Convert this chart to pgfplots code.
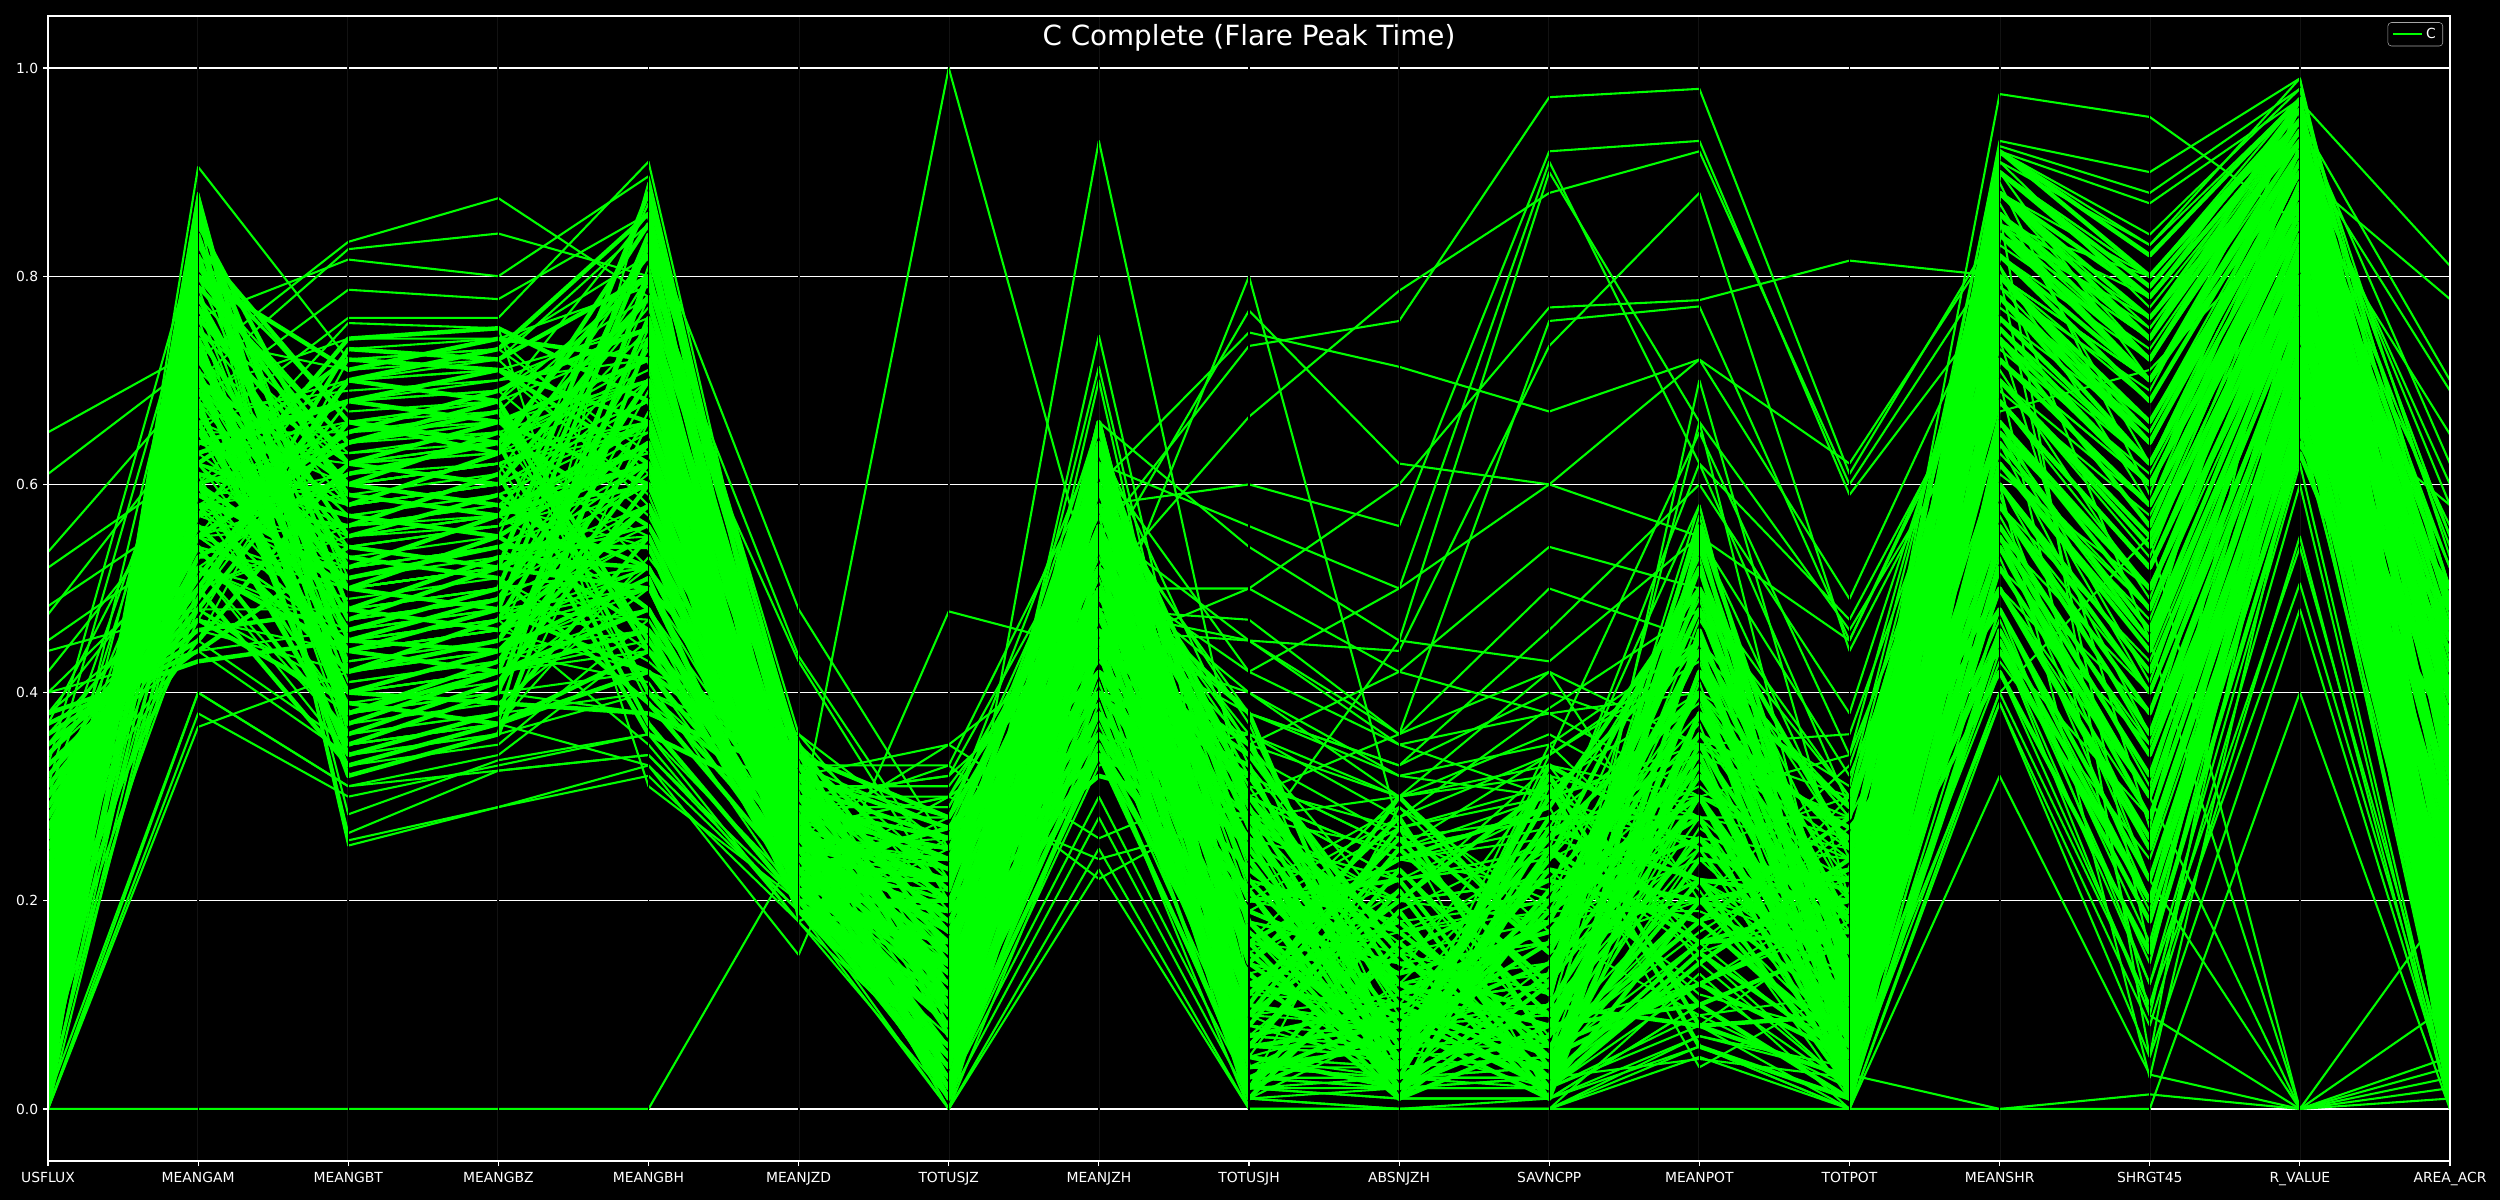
\documentclass[border=0pt]{standalone}
\usepackage{pgfplots}
\usepackage{pgfplotstable}
\pgfplotsset{compat=1.18}
\usepackage{fontspec}
\setmainfont{DejaVu Sans}
\definecolor{lg}{HTML}{00FF00}

\pgfplotstableread{
USFLUX MEANGAM MEANGBT MEANGBZ MEANGBH MEANJZD TOTUSJZ MEANJZH TOTUSJH ABSNJZH SAVNCPP MEANPOT TOTPOT MEANSHR SHRGT RVALUE AREAACR
0.05 0.82 0.45 0.49 0.70 0.22 0.04 0.55 0.05 0.02 0.20 0.30 0.10 0.85 0.70 0.90 0.05
0.12 0.70 0.60 0.58 0.52 0.26 0.10 0.48 0.12 0.18 0.05 0.22 0.02 0.70 0.55 0.82 0.15
0.20 0.60 0.35 0.40 0.80 0.30 0.18 0.40 0.25 0.06 0.30 0.45 0.18 0.60 0.40 0.75 0.30
0.30 0.50 0.70 0.68 0.45 0.24 0.22 0.62 0.30 0.10 0.02 0.15 0.05 0.90 0.78 0.95 0.40
0.08 0.78 0.52 0.57 0.62 0.20 0.06 0.35 0.08 0.25 0.12 0.50 0.25 0.50 0.25 0.68 0.10
0.15 0.66 0.40 0.39 0.38 0.32 0.14 0.58 0.16 0.01 0.25 0.10 0.01 0.78 0.62 0.88 0.22
0.25 0.55 0.65 0.69 0.75 0.28 0.25 0.45 0.35 0.12 0.08 0.35 0.13 0.45 0.18 0.65 0.48
0.35 0.46 0.48 0.46 0.58 0.21 0.08 0.66 0.10 0.30 0.15 0.40 0.07 0.88 0.74 0.97 0.08
0.03 0.85 0.58 0.63 0.85 0.34 0.28 0.52 0.38 0.04 0.33 0.25 0.21 0.65 0.50 0.80 0.35
0.10 0.74 0.38 0.42 0.48 0.23 0.12 0.38 0.06 0.08 0.01 0.55 0.03 0.55 0.32 0.72 0.18
0.18 0.62 0.72 0.71 0.66 0.27 0.02 0.60 0.02 0.15 0.22 0.18 0.28 0.82 0.68 0.92 0.02
0.28 0.52 0.44 0.48 0.42 0.31 0.20 0.32 0.28 0.03 0.10 0.08 0.09 0.72 0.58 0.85 0.42
0.06 0.80 0.62 0.60 0.78 0.19 0.16 0.50 0.20 0.22 0.04 0.42 0.15 0.42 0.15 0.63 0.28
0.14 0.68 0.34 0.38 0.55 0.25 0.05 0.64 0.04 0.06 0.28 0.28 0.02 0.92 0.80 0.96 0.06
0.22 0.58 0.56 0.61 0.36 0.29 0.26 0.42 0.32 0.11 0.18 0.48 0.11 0.62 0.45 0.78 0.45
0.32 0.48 0.66 0.64 0.82 0.33 0.10 0.56 0.14 0.28 0.06 0.12 0.19 0.80 0.66 0.90 0.12
0.04 0.84 0.42 0.45 0.64 0.22 0.22 0.46 0.26 0.02 0.13 0.33 0.04 0.52 0.30 0.70 0.38
0.11 0.72 0.50 0.55 0.46 0.20 0.03 0.34 0.03 0.09 0.02 0.20 0.23 0.68 0.52 0.84 0.04
0.19 0.64 0.68 0.66 0.72 0.26 0.15 0.62 0.18 0.05 0.24 0.52 0.06 0.86 0.72 0.94 0.25
0.27 0.54 0.36 0.41 0.60 0.30 0.24 0.54 0.30 0.14 0.09 0.26 0.14 0.58 0.36 0.74 0.50
0.37 0.44 0.54 0.52 0.50 0.35 0.07 0.44 0.09 0.20 0.31 0.06 0.01 0.75 0.60 0.87 0.10
0.07 0.79 0.64 0.68 0.40 0.24 0.13 0.36 0.13 0.01 0.07 0.38 0.26 0.48 0.22 0.66 0.20
0.16 0.69 0.46 0.50 0.84 0.21 0.19 0.58 0.22 0.07 0.16 0.44 0.08 0.88 0.76 0.93 0.32
0.24 0.57 0.74 0.75 0.68 0.28 0.01 0.48 0.01 0.16 0.03 0.16 0.17 0.66 0.48 0.83 0.01
0.33 0.47 0.39 0.37 0.44 0.23 0.27 0.40 0.33 0.04 0.21 0.30 0.03 0.80 0.64 0.91 0.46
0.09 0.76 0.60 0.65 0.56 0.32 0.09 0.66 0.11 0.26 0.11 0.54 0.12 0.56 0.34 0.71 0.14
0.13 0.71 0.32 0.36 0.74 0.19 0.11 0.52 0.15 0.03 0.27 0.22 0.20 0.74 0.60 0.86 0.17
0.21 0.61 0.57 0.55 0.64 0.27 0.17 0.38 0.23 0.12 0.05 0.12 0.05 0.90 0.79 0.96 0.27
0.29 0.51 0.70 0.73 0.86 0.30 0.23 0.60 0.27 0.08 0.14 0.36 0.27 0.44 0.20 0.64 0.36
0.02 0.86 0.48 0.53 0.52 0.25 0.02 0.44 0.02 0.19 0.01 0.46 0.10 0.60 0.42 0.77 0.03
0.17 0.65 0.53 0.51 0.39 0.22 0.14 0.34 0.17 0.05 0.19 0.28 0.02 0.84 0.70 0.92 0.21
0.26 0.56 0.42 0.47 0.70 0.34 0.21 0.64 0.24 0.02 0.08 0.10 0.16 0.70 0.54 0.84 0.40
0.36 0.45 0.62 0.66 0.60 0.26 0.12 0.50 0.16 0.24 0.29 0.50 0.07 0.54 0.28 0.70 0.16
0.05 0.83 0.66 0.63 0.78 0.20 0.06 0.56 0.07 0.10 0.04 0.24 0.22 0.76 0.62 0.88 0.07
0.12 0.73 0.37 0.42 0.46 0.29 0.16 0.42 0.19 0.13 0.17 0.34 0.04 0.64 0.46 0.80 0.23
0.23 0.59 0.51 0.54 0.54 0.24 0.19 0.36 0.21 0.01 0.12 0.56 0.13 0.86 0.74 0.94 0.34
0.31 0.49 0.73 0.72 0.80 0.31 0.26 0.58 0.29 0.06 0.23 0.20 0.09 0.50 0.26 0.69 0.44
0.08 0.77 0.55 0.59 0.48 0.21 0.04 0.62 0.06 0.21 0.02 0.14 0.24 0.82 0.70 0.93 0.09
0.15 0.67 0.44 0.42 0.76 0.27 0.11 0.46 0.12 0.09 0.26 0.40 0.01 0.46 0.20 0.67 0.19
0.20 0.63 0.68 0.71 0.62 0.33 0.17 0.40 0.21 0.03 0.10 0.32 0.18 0.68 0.52 0.82 0.29
0.34 0.50 0.33 0.37 0.42 0.25 0.24 0.52 0.28 0.17 0.06 0.18 0.06 0.78 0.64 0.90 0.48
0.03 0.81 0.59 0.57 0.66 0.23 0.08 0.66 0.09 0.27 0.15 0.48 0.11 0.92 0.82 0.97 0.11
0.10 0.75 0.47 0.52 0.88 0.28 0.13 0.54 0.14 0.04 0.32 0.08 0.03 0.58 0.38 0.76 0.26
0.26 0.53 0.61 0.64 0.37 0.20 0.20 0.34 0.26 0.11 0.03 0.42 0.29 0.72 0.58 0.86 0.39
0.38 0.43 0.45 0.44 0.58 0.30 0.09 0.48 0.10 0.07 0.20 0.26 0.08 0.84 0.72 0.95 0.13
0.06 0.80 0.71 0.74 0.72 0.35 0.15 0.60 0.18 0.02 0.13 0.52 0.15 0.54 0.30 0.73 0.24
0.14 0.70 0.40 0.44 0.51 0.19 0.05 0.38 0.06 0.23 0.09 0.30 0.05 0.62 0.44 0.79 0.06
0.18 0.60 0.50 0.48 0.83 0.26 0.22 0.56 0.24 0.05 0.25 0.16 0.20 0.88 0.78 0.95 0.37
0.28 0.55 0.64 0.67 0.44 0.32 0.27 0.44 0.34 0.15 0.01 0.38 0.12 0.66 0.50 0.81 0.49
0.01 0.87 0.38 0.43 0.62 0.23 0.01 0.50 0.02 0.08 0.18 0.44 0.02 0.74 0.56 0.89 0.02
}\coredata

\pgfplotstableread{
USFLUX MEANGAM MEANGBT MEANGBZ MEANGBH MEANJZD TOTUSJZ MEANJZH TOTUSJH ABSNJZH SAVNCPP MEANPOT TOTPOT MEANSHR SHRGT RVALUE AREAACR
0.65 0.73 0.52 0.54 0.60 0.26 0.12 0.50 0.14 0.10 0.12 0.30 0.10 0.70 0.55 0.85 0.30
0.61 0.72 0.47 0.49 0.66 0.30 0.20 0.55 0.22 0.17 0.20 0.40 0.18 0.80 0.65 0.90 0.45
0.535 0.70 0.60 0.62 0.55 0.24 0.15 0.45 0.18 0.14 0.16 0.22 0.14 0.60 0.40 0.78 0.35
0.52 0.62 0.43 0.45 0.48 0.28 0.25 0.60 0.30 0.22 0.25 0.35 0.24 0.85 0.75 0.94 0.55
0.483 0.58 0.38 0.40 0.42 0.22 0.30 0.40 0.36 0.30 0.32 0.15 0.30 0.75 0.60 0.88 0.52
0.475 0.66 0.70 0.71 0.75 0.32 0.28 0.52 0.40 0.32 0.35 0.45 0.28 0.55 0.35 0.70 0.58
0.45 0.55 0.56 0.57 0.80 0.25 0.22 0.62 0.28 0.25 0.28 0.28 0.25 0.90 0.80 0.96 0.50
0.0 0.367 0.42 0.44 0.50 0.20 0.02 0.30 0.02 0.01 0.01 0.10 0.01 0.45 0.12 0.62 0.01
0.0 0.38 0.30 0.33 0.36 0.18 0.01 0.28 0.01 0.02 0.02 0.08 0.00 0.40 0.10 0.60 0.00
0.01 0.40 0.31 0.325 0.34 0.19 0.00 0.25 0.00 0.00 0.00 0.06 0.00 0.39 0.08 0.55 0.00
0.0 0.0 0.0 0.0 0.0 0.25 0.0 0.23 0.0 0.0 0.0 0.0 0.0 0.0 0.0 0.40 0.0
0.02 0.55 0.45 0.47 0.55 0.22 0.01 0.40 0.01 0.0 0.0 0.05 0.0 0.32 0.033 0.0 0.02
0.01 0.60 0.50 0.52 0.60 0.20 0.0 0.35 0.0 0.0 0.0 0.07 0.033 0.0 0.014 0.0 0.01
0.03 0.65 0.40 0.42 0.45 0.24 0.02 0.45 0.02 0.01 0.01 0.10 0.01 0.45 0.09 0.0 0.05
0.04 0.70 0.55 0.57 0.65 0.26 0.03 0.50 0.03 0.02 0.02 0.12 0.02 0.55 0.22 0.0 0.10
0.02 0.75 0.62 0.63 0.70 0.21 0.02 0.55 0.02 0.02 0.03 0.15 0.02 0.65 0.45 0.0 0.03
0.05 0.52 0.36 0.38 0.40 0.27 0.04 0.38 0.05 0.03 0.04 0.20 0.03 0.50 0.30 0.0 0.04
0.03 0.80 0.48 0.50 0.52 0.23 0.02 0.42 0.03 0.03 0.02 0.09 0.02 0.40 0.55 0.0 0.20
0.06 0.58 0.44 0.46 0.50 0.22 0.05 0.40 0.06 0.05 0.06 0.18 0.05 0.42 0.10 0.505 0.02
0.08 0.62 0.58 0.60 0.68 0.25 0.06 0.44 0.07 0.06 0.07 0.22 0.06 0.48 0.12 0.54 0.03
0.05 0.68 0.50 0.52 0.62 0.28 0.03 0.36 0.04 0.04 0.05 0.16 0.04 0.39 0.05 0.48 0.01
0.42 0.60 0.65 0.66 0.70 0.30 0.32 0.58 0.38 0.33 0.40 0.35 0.30 0.85 0.78 0.968 0.81
0.40 0.54 0.50 0.52 0.56 0.27 0.30 0.50 0.35 0.30 0.36 0.28 0.28 0.80 0.70 0.90 0.778
0.38 0.50 0.68 0.69 0.78 0.33 0.33 0.62 0.42 0.35 0.38 0.40 0.31 0.88 0.80 0.95 0.70
0.44 0.48 0.40 0.42 0.44 0.26 0.35 0.46 0.45 0.36 0.42 0.20 0.33 0.75 0.62 0.92 0.69
0.36 0.52 0.46 0.48 0.50 0.29 0.29 0.54 0.36 0.28 0.34 0.44 0.29 0.70 0.55 0.88 0.648
0.30 0.55 0.60 0.62 0.65 0.27 1.0 0.48 0.45 0.35 0.30 0.25 0.30 0.78 0.65 0.90 0.50
0.25 0.45 0.35 0.37 0.33 0.148 0.478 0.44 0.50 0.42 0.38 0.30 0.34 0.70 0.55 0.85 0.40
0.15 0.70 0.55 0.57 0.60 0.22 0.137 0.93 0.27 0.20 0.18 0.40 0.15 0.82 0.70 0.93 0.25
0.10 0.78 0.62 0.64 0.72 0.20 0.10 0.743 0.12 0.08 0.09 0.30 0.08 0.88 0.75 0.95 0.12
0.12 0.75 0.58 0.60 0.68 0.21 0.13 0.713 0.10 0.07 0.08 0.25 0.07 0.80 0.68 0.92 0.10
0.09 0.82 0.66 0.68 0.80 0.23 0.08 0.70 0.06 0.06 0.06 0.20 0.06 0.72 0.60 0.90 0.08
0.30 0.46 0.42 0.44 0.46 0.28 0.33 0.221 0.30 0.22 0.25 0.15 0.20 0.55 0.25 0.72 0.40
0.28 0.48 0.38 0.40 0.38 0.30 0.30 0.24 0.28 0.20 0.22 0.12 0.18 0.60 0.35 0.75 0.38
0.33 0.44 0.34 0.36 0.40 0.32 0.35 0.26 0.32 0.25 0.28 0.18 0.22 0.65 0.40 0.80 0.45
0.35 0.50 0.55 0.56 0.62 0.30 0.32 0.45 0.40 0.30 0.33 0.30 0.26 0.72 0.60 0.86 0.52
0.32 0.52 0.48 0.50 0.58 0.31 0.31 0.50 0.38 0.32 0.30 0.34 0.28 0.78 0.66 0.90 0.48
0.26 0.57 0.52 0.54 0.55 0.29 0.29 0.55 0.34 0.26 0.28 0.26 0.24 0.68 0.52 0.84 0.44
0.22 0.60 0.64 0.66 0.52 0.33 0.27 0.36 0.30 0.24 0.26 0.22 0.22 0.62 0.48 0.80 0.42
0.34 0.47 0.44 0.46 0.42 0.36 0.25 0.58 0.31 0.27 0.31 0.40 0.25 0.82 0.72 0.93 0.46
0.20 0.62 0.70 0.72 0.85 0.48 0.25 0.45 0.26 0.22 0.24 0.45 0.20 0.70 0.58 0.88 0.30
0.18 0.65 0.65 0.67 0.80 0.435 0.22 0.50 0.24 0.20 0.22 0.38 0.18 0.75 0.62 0.90 0.28
0.16 0.68 0.58 0.60 0.75 0.43 0.20 0.55 0.22 0.18 0.20 0.33 0.16 0.66 0.50 0.84 0.24
0.24 0.58 0.50 0.52 0.60 0.24 0.20 0.44 0.80 0.27 0.30 0.35 0.25 0.70 0.55 0.88 0.50
0.28 0.55 0.45 0.47 0.50 0.26 0.25 0.52 0.767 0.62 0.60 0.55 0.45 0.75 0.60 0.90 0.55
0.30 0.52 0.62 0.63 0.66 0.28 0.28 0.60 0.746 0.713 0.67 0.72 0.49 0.80 0.65 0.92 0.60
0.32 0.50 0.56 0.58 0.70 0.27 0.30 0.55 0.733 0.757 0.972 0.98 0.61 0.85 0.72 0.95 0.62
0.26 0.60 0.68 0.70 0.72 0.25 0.26 0.50 0.665 0.786 0.88 0.92 0.60 0.82 0.70 0.93 0.58
0.22 0.62 0.48 0.50 0.52 0.23 0.24 0.58 0.60 0.56 0.92 0.93 0.59 0.78 0.65 0.91 0.52
0.20 0.58 0.54 0.56 0.64 0.25 0.22 0.62 0.56 0.50 0.91 0.62 0.47 0.74 0.60 0.90 0.48
0.18 0.65 0.40 0.42 0.46 0.22 0.21 0.66 0.54 0.45 0.90 0.66 0.46 0.70 0.55 0.88 0.45
0.21 0.60 0.44 0.46 0.58 0.26 0.23 0.50 0.50 0.60 0.77 0.777 0.815 0.80 0.70 0.92 0.50
0.19 0.63 0.52 0.54 0.62 0.24 0.20 0.48 0.47 0.36 0.757 0.771 0.45 0.76 0.62 0.90 0.46
0.17 0.66 0.60 0.62 0.68 0.22 0.18 0.56 0.45 0.44 0.733 0.88 0.44 0.72 0.58 0.88 0.42
0.23 0.58 0.66 0.68 0.74 0.27 0.22 0.52 0.42 0.50 0.60 0.72 0.62 0.84 0.74 0.94 0.55
0.14 0.70 0.55 0.57 0.64 0.21 0.12 0.55 0.35 0.42 0.54 0.50 0.30 0.78 0.65 0.92 0.35
0.12 0.72 0.47 0.49 0.56 0.23 0.11 0.50 0.30 0.36 0.50 0.45 0.28 0.72 0.58 0.88 0.32
0.16 0.64 0.63 0.65 0.70 0.25 0.15 0.46 0.38 0.33 0.46 0.60 0.38 0.82 0.70 0.93 0.40
0.11 0.74 0.41 0.43 0.48 0.20 0.09 0.60 0.25 0.45 0.43 0.55 0.32 0.68 0.50 0.85 0.30
0.13 0.71 0.57 0.59 0.66 0.24 0.10 0.40 0.28 0.30 0.42 0.35 0.36 0.76 0.62 0.90 0.28
0.09 0.76 0.35 0.37 0.44 0.22 0.08 0.52 0.20 0.28 0.385 0.48 0.30 0.64 0.45 0.82 0.20
0.15 0.67 0.69 0.70 0.76 0.26 0.14 0.58 0.32 0.25 0.34 0.65 0.34 0.86 0.74 0.95 0.33
0.05 0.88 0.253 0.29 0.32 0.18 0.04 0.40 0.05 0.04 0.05 0.20 0.04 0.60 0.40 0.80 0.06
0.04 0.875 0.258 0.29 0.33 0.19 0.03 0.42 0.04 0.03 0.04 0.25 0.03 0.65 0.45 0.82 0.05
0.06 0.86 0.265 0.325 0.34 0.20 0.05 0.45 0.06 0.05 0.06 0.30 0.05 0.55 0.30 0.75 0.07
0.07 0.84 0.283 0.335 0.36 0.21 0.06 0.38 0.07 0.06 0.07 0.18 0.06 0.50 0.28 0.72 0.08
0.0 0.40 0.31 0.34 0.45 0.22 0.02 0.35 0.02 0.03 0.03 0.14 0.02 0.48 0.20 0.70 0.03
0.10 0.72 0.833 0.875 0.78 0.24 0.08 0.50 0.10 0.08 0.09 0.30 0.08 0.80 0.70 0.92 0.10
0.12 0.70 0.826 0.841 0.80 0.26 0.10 0.54 0.12 0.09 0.10 0.35 0.09 0.84 0.74 0.94 0.12
0.08 0.76 0.816 0.80 0.896 0.28 0.07 0.48 0.08 0.07 0.08 0.28 0.07 0.78 0.66 0.90 0.09
0.14 0.68 0.787 0.778 0.86 0.30 0.12 0.52 0.14 0.10 0.12 0.32 0.10 0.82 0.70 0.93 0.15
0.17 0.65 0.76 0.76 0.91 0.29 0.16 0.58 0.18 0.14 0.16 0.40 0.14 0.86 0.76 0.95 0.20
0.20 0.60 0.755 0.75 0.31 0.20 0.15 0.36 0.16 0.12 0.14 0.22 0.12 0.58 0.40 0.78 0.22
0.02 0.905 0.72 0.73 0.82 0.25 0.03 0.50 0.03 0.02 0.03 0.35 0.02 0.90 0.80 0.96 0.04
0.03 0.88 0.35 0.37 0.89 0.27 0.05 0.55 0.05 0.04 0.05 0.45 0.04 0.92 0.83 0.97 0.05
0.25 0.55 0.50 0.52 0.60 0.27 0.22 0.50 0.26 0.22 0.24 0.40 0.22 0.975 0.953 0.85 0.45
0.22 0.58 0.60 0.62 0.66 0.25 0.20 0.55 0.24 0.20 0.22 0.36 0.20 0.93 0.90 0.99 0.40
0.27 0.52 0.45 0.47 0.52 0.28 0.24 0.48 0.30 0.24 0.27 0.30 0.24 0.925 0.88 0.98 0.48
0.19 0.62 0.56 0.58 0.62 0.24 0.17 0.60 0.20 0.17 0.19 0.44 0.17 0.92 0.87 0.97 0.35
0.16 0.64 0.62 0.64 0.70 0.23 0.14 0.56 0.16 0.14 0.16 0.50 0.15 0.91 0.83 0.99 0.30
0.10 0.70 0.50 0.52 0.58 0.22 0.08 0.46 0.09 0.08 0.10 0.26 0.08 0.70 0.09 0.70 0.15
0.13 0.66 0.44 0.46 0.52 0.24 0.10 0.50 0.11 0.10 0.12 0.30 0.10 0.80 0.15 0.75 0.20
0.18 0.60 0.64 0.66 0.72 0.26 0.16 0.42 0.18 0.15 0.18 0.20 0.15 0.86 0.05 0.82 0.30
0.07 0.74 0.54 0.56 0.60 0.21 0.06 0.54 0.07 0.06 0.07 0.34 0.06 0.60 0.03 0.65 0.10
0.05 0.70 0.46 0.48 0.55 0.22 0.04 0.45 0.04 0.03 0.03 0.048 0.03 0.70 0.55 0.85 0.05
0.11 0.70 0.50 0.52 0.60 0.23 0.09 0.50 0.10 0.08 0.10 0.66 0.09 0.78 0.66 0.92 0.12
0.14 0.68 0.58 0.60 0.66 0.25 0.12 0.55 0.14 0.10 0.05 0.70 0.20 0.74 0.62 0.90 0.15
0.04 0.62 0.55 0.57 0.48 0.24 0.09 0.42 0.03 0.12 0.26 0.58 0.04 0.52 0.38 0.74 0.22
0.21 0.77 0.41 0.43 0.69 0.20 0.16 0.61 0.27 0.02 0.08 0.12 0.21 0.81 0.45 0.93 0.07
0.09 0.49 0.68 0.69 0.57 0.29 0.03 0.36 0.12 0.21 0.02 0.33 0.09 0.67 0.71 0.86 0.41
0.33 0.84 0.36 0.38 0.81 0.22 0.21 0.55 0.06 0.05 0.35 0.21 0.01 0.44 0.28 0.79 0.16
0.14 0.58 0.61 0.62 0.40 0.34 0.12 0.64 0.33 0.15 0.11 0.47 0.25 0.89 0.59 0.97 0.53
0.02 0.73 0.47 0.49 0.73 0.19 0.05 0.47 0.16 0.30 0.17 0.09 0.11 0.59 0.22 0.68 0.03
0.27 0.45 0.72 0.73 0.63 0.26 0.24 0.39 0.01 0.08 0.28 0.39 0.06 0.76 0.65 0.91 0.36
0.11 0.67 0.39 0.41 0.52 0.31 0.07 0.58 0.22 0.18 0.05 0.27 0.17 0.63 0.48 0.83 0.11
0.38 0.56 0.53 0.55 0.87 0.23 0.18 0.51 0.14 0.24 0.21 0.53 0.02 0.91 0.77 0.95 0.47
0.06 0.80 0.64 0.65 0.45 0.28 0.02 0.33 0.36 0.01 0.31 0.16 0.27 0.48 0.19 0.72 0.09
0.19 0.52 0.34 0.36 0.66 0.21 0.14 0.66 0.04 0.11 0.13 0.44 0.14 0.83 0.73 0.94 0.31
0.01 0.64 0.58 0.60 0.77 0.33 0.11 0.44 0.19 0.27 0.01 0.07 0.04 0.70 0.53 0.88 0.02
0.30 0.71 0.45 0.47 0.35 0.18 0.26 0.57 0.08 0.04 0.24 0.31 0.19 0.56 0.34 0.76 0.44
0.16 0.47 0.70 0.71 0.59 0.25 0.04 0.49 0.29 0.14 0.09 0.57 0.08 0.87 0.62 0.92 0.18
0.08 0.86 0.50 0.52 0.84 0.36 0.19 0.38 0.11 0.20 0.33 0.14 0.23 0.66 0.41 0.81 0.27
0.24 0.60 0.37 0.39 0.50 0.20 0.08 0.63 0.25 0.07 0.04 0.41 0.01 0.79 0.69 0.96 0.50
0.12 0.76 0.63 0.64 0.71 0.27 0.23 0.45 0.02 0.29 0.19 0.19 0.13 0.46 0.14 0.69 0.13
0.35 0.54 0.49 0.51 0.43 0.30 0.13 0.54 0.31 0.10 0.27 0.50 0.20 0.85 0.80 0.97 0.39
0.03 0.69 0.74 0.74 0.61 0.22 0.01 0.40 0.09 0.03 0.14 0.25 0.03 0.61 0.50 0.80 0.05
0.22 0.82 0.43 0.45 0.78 0.32 0.17 0.60 0.20 0.23 0.07 0.36 0.16 0.74 0.27 0.87 0.34
0.13 0.50 0.56 0.58 0.54 0.19 0.10 0.35 0.13 0.17 0.23 0.11 0.07 0.50 0.35 0.73 0.20
0.29 0.63 0.66 0.67 0.39 0.28 0.20 0.59 0.37 0.06 0.02 0.55 0.24 0.90 0.70 0.95 0.42
0.07 0.79 0.38 0.40 0.67 0.24 0.06 0.52 0.05 0.25 0.30 0.22 0.10 0.69 0.57 0.85 0.08
0.17 0.57 0.59 0.61 0.82 0.35 0.22 0.43 0.28 0.12 0.16 0.45 0.02 0.58 0.43 0.78 0.29
0.40 0.44 0.46 0.48 0.47 0.21 0.28 0.65 0.17 0.02 0.10 0.08 0.18 0.81 0.58 0.92 0.54
0.05 0.74 0.71 0.72 0.58 0.26 0.03 0.37 0.07 0.19 0.26 0.34 0.05 0.43 0.24 0.66 0.06
0.25 0.66 0.40 0.42 0.75 0.30 0.15 0.56 0.32 0.09 0.06 0.17 0.26 0.77 0.66 0.90 0.37
0.10 0.53 0.52 0.54 0.44 0.23 0.11 0.48 0.10 0.26 0.20 0.49 0.09 0.64 0.36 0.82 0.15
0.31 0.81 0.67 0.68 0.86 0.18 0.25 0.62 0.23 0.13 0.32 0.28 0.15 0.92 0.84 0.98 0.45
0.18 0.61 0.35 0.37 0.53 0.34 0.08 0.41 0.03 0.07 0.12 0.58 0.03 0.53 0.20 0.75 0.25
0.00 0.70 0.57 0.59 0.63 0.25 0.00 0.46 0.00 0.00 0.00 0.13 0.00 0.62 0.47 0.84 0.00
0.00 0.58 0.44 0.46 0.50 0.22 0.02 0.39 0.01 0.00 0.01 0.06 0.00 0.55 0.40 0.78 0.01
0.26 0.72 0.62 0.64 0.70 0.27 0.19 0.53 0.26 0.16 0.25 0.62 0.29 0.73 0.61 0.89 0.33
0.15 0.48 0.48 0.50 0.61 0.29 0.12 0.44 0.15 0.22 0.29 0.04 0.12 0.84 0.76 0.96 0.19
0.37 0.65 0.54 0.56 0.74 0.24 0.27 0.57 0.35 0.18 0.03 0.30 0.22 0.68 0.52 0.86 0.56
0.08 0.78 0.42 0.44 0.41 0.20 0.07 0.50 0.12 0.04 0.34 0.43 0.06 0.57 0.31 0.77 0.12
0.20 0.55 0.73 0.74 0.79 0.31 0.14 0.61 0.21 0.29 0.15 0.20 0.17 0.88 0.72 0.94 0.28
0.12 0.68 0.33 0.35 0.47 0.26 0.10 0.34 0.09 0.11 0.08 0.52 0.14 0.47 0.16 0.70 0.10
0.28 0.59 0.60 0.62 0.68 0.22 0.21 0.59 0.30 0.15 0.22 0.37 0.01 0.79 0.64 0.91 0.43
0.04 0.83 0.51 0.53 0.56 0.28 0.05 0.45 0.05 0.09 0.18 0.24 0.11 0.71 0.49 0.88 0.04
}\thindata

\pgfplotstabletranspose\coreT{\coredata}
\pgfplotstabletranspose\thinT{\thindata}

\begin{document}
\begin{tikzpicture}
\path[use as bounding box] (-34.56pt,-28.08pt) rectangle (1765.44pt,835.92pt);
\fill[black] (-34.56pt,-28.08pt) rectangle (1765.44pt,835.92pt);
\begin{axis}[
  at={(0pt,0pt)}, anchor=south west,
  scale only axis, width=1729.44pt, height=824.4pt,
  xmin=0, xmax=16, ymin=-0.05, ymax=1.05,
  axis background/.style={fill=black},
  axis line style={white, line width=0.8pt},
  xtick={0,...,16},
  xticklabels={USFLUX,MEANGAM,MEANGBT,MEANGBZ,MEANGBH,MEANJZD,TOTUSJZ,MEANJZH,TOTUSJH,ABSNJZH,SAVNCPP,MEANPOT,TOTPOT,MEANSHR,SHRGT45,R\_VALUE,AREA\_ACR},
  ytick={0,0.2,0.4,0.6,0.8,1.0},
  yticklabel style={/pgf/number format/fixed, /pgf/number format/fixed zerofill, /pgf/number format/precision=1},
  /pgf/number format/assume math mode=true,
  xtick pos=bottom, ytick pos=left,
  tick align=outside, major tick length=3.5pt,
  tick style={white, line width=0.8pt},
  ticklabel style={white, font=\fontsize{10}{12}\selectfont},
  xticklabel style={yshift=-1pt},
  ymajorgrids, grid style={white, line width=0.8pt},
  legend style={at={(rel axis cs:1,1)}, anchor=north east, xshift=-5pt, yshift=-4.5pt,
    fill=black, draw=black!35!white, rounded corners=2.5pt, text=white,
    font=\fontsize{10}{12}\selectfont, inner xsep=3pt, inner ysep=2pt},
  legend image code/.code={\draw[#1] (0pt,0pt) -- (21pt,0pt);},
  clip=true,
]
\addlegendimage{lg, line width=1.5pt}
\addlegendentry{C}
\pgfplotsinvokeforeach{1,...,15}{
  \draw[black!93!white, line width=1.3pt] (axis cs:#1,-0.05) -- (axis cs:#1,1.05);
}
\pgfplotsinvokeforeach{1,...,50}{
  \addplot[lg, line width=3.2pt, line join=round, forget plot] table[x expr=\coordindex, y index=#1] {\coreT};
}
\pgfplotsinvokeforeach{1,...,127}{
  \addplot[lg, line width=1.5pt, line join=round, forget plot] table[x expr=\coordindex, y index=#1] {\thinT};
}
\pgfplotsinvokeforeach{1,...,15}{
  \draw[black, line width=0.8pt] (axis cs:#1,-0.05) -- (axis cs:#1,1.05);
}
\draw[white, line width=0.8pt] (rel axis cs:0,0) rectangle (rel axis cs:1,1);
\node[white, font=\fontsize{20}{24}\selectfont, anchor=base] at (rel axis cs:0.5,0.9738) {C Complete (Flare Peak Time)};
\end{axis}
\end{tikzpicture}
\end{document}
